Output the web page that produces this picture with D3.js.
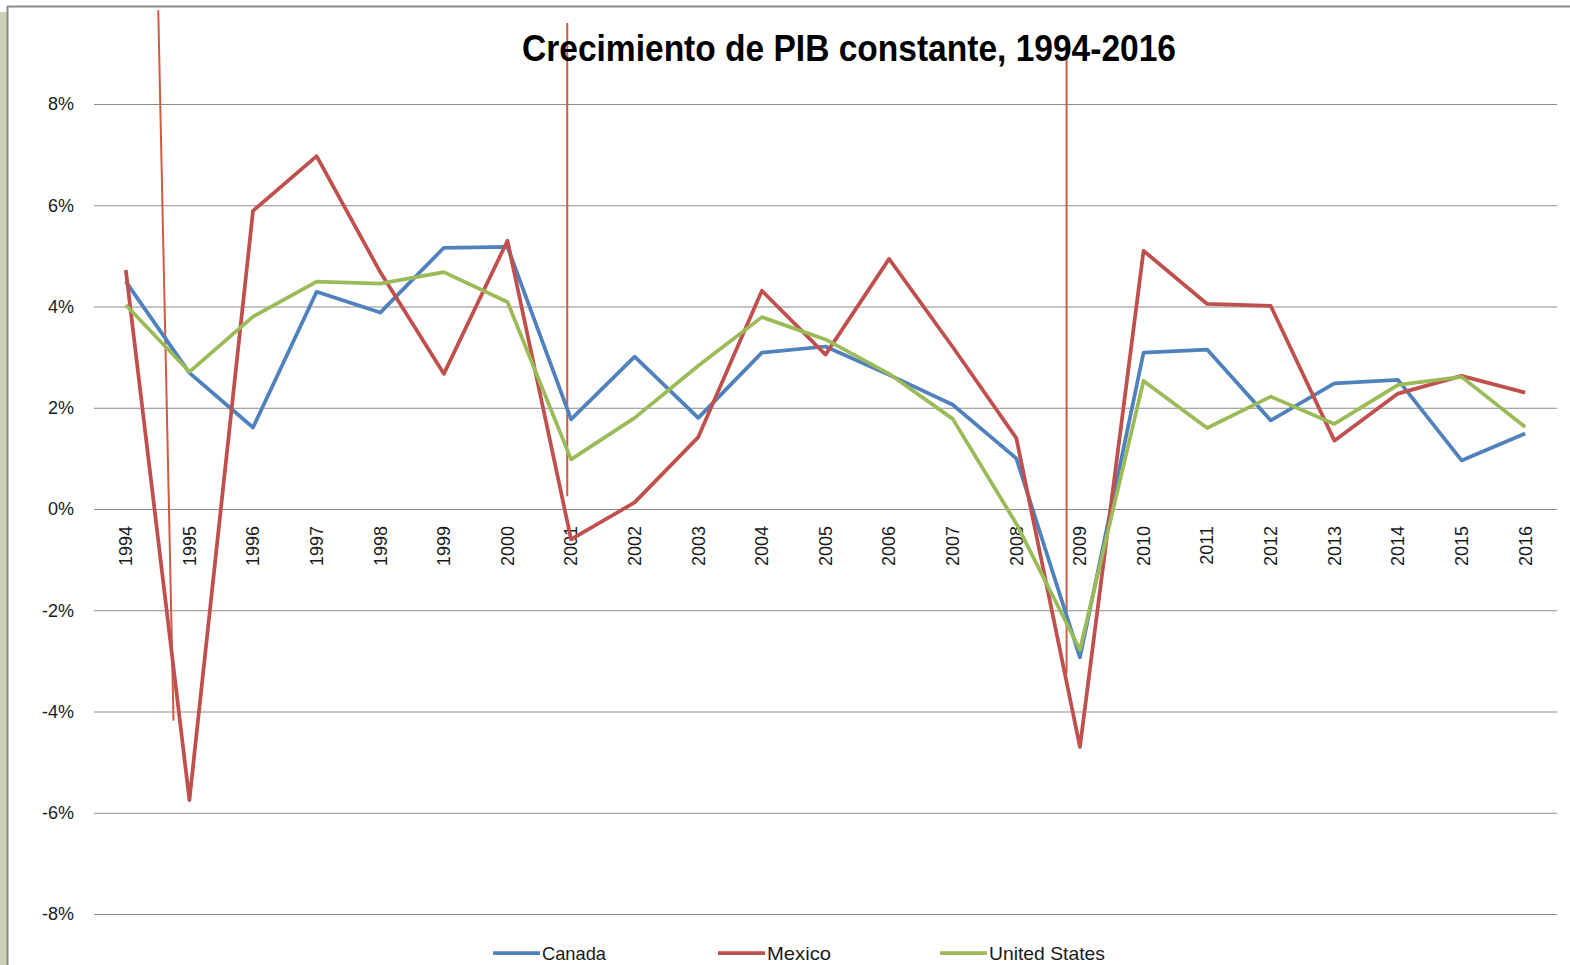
<!DOCTYPE html>
<html>
<head>
<meta charset="utf-8">
<script src="https://cdn.jsdelivr.net/npm/d3@7"></script>
<style>
  html, body { margin: 0; padding: 0; background: #fff; }
  svg { display: block; }
</style>
</head>
<body>
<svg id="chart" width="1570" height="965"></svg>
<script>
const years = ["1994","1995","1996","1997","1998","1999","2000","2001","2002","2003","2004","2005","2006","2007","2008","2009","2010","2011","2012","2013","2014","2015","2016"];
const canada = [4.49, 2.69, 1.61, 4.29, 3.88, 5.16, 5.18, 1.77, 3.01, 1.80, 3.09, 3.21, 2.65, 2.06, 1.00, -2.93, 3.09, 3.15, 1.75, 2.48, 2.55, 0.96, 1.49];
const mexico = [4.72, -5.75, 5.89, 6.97, 4.68, 2.67, 5.30, -0.60, 0.13, 1.42, 4.31, 3.05, 4.94, 3.20, 1.40, -4.70, 5.10, 4.05, 4.01, 1.35, 2.28, 2.63, 2.30];
const unitedStates = [4.03, 2.71, 3.80, 4.49, 4.45, 4.68, 4.09, 0.98, 1.80, 2.83, 3.79, 3.35, 2.67, 1.78, -0.29, -2.78, 2.53, 1.60, 2.22, 1.68, 2.45, 2.61, 1.62];
const yTicks = [-8, -6, -4, -2, 0, 2, 4, 6, 8];
const seriesNames = ["Canada", "Mexico", "United States"];
const seriesColors = ["#4f81bd", "#c0504d", "#9bbb59"];
const title = "Crecimiento de PIB constante, 1994-2016";
// hand-drawn annotation strokes, in data units (year index, percent)
const annotX1 = [0.51, 6.94, 14.79];
const annotY1 = [9.85, 9.6, 9.25];
const annotX2 = [0.75, 6.94, 14.79];
const annotY2 = [-4.18, 0.25, -3.25];

const svg = d3.select("#chart");
const W = 1570, H = 965;
const plot = {left: 94, right: 1557, top: 104, bottom: 914};

// frame
svg.append("rect").attr("x", 0).attr("y", 12).attr("width", 7).attr("height", H - 12).attr("fill", "#cdd1b9");
svg.append("line").attr("x1", 7.5).attr("x2", 7.5).attr("y1", 6).attr("y2", H).attr("stroke", "#8a8a8a").attr("stroke-width", 2);
svg.append("line").attr("x1", 7).attr("x2", W).attr("y1", 6.5).attr("y2", 6.5).attr("stroke", "#8a8a8a").attr("stroke-width", 2);

const x = d3.scaleBand().domain(years).range([plot.left, plot.right]).padding(0);
const xc = d => x(d) + x.bandwidth() / 2;
const xi = i => plot.left + x.bandwidth() * (i + 0.5);
const y = d3.scaleLinear().domain([-8, 8]).range([plot.bottom, plot.top]);

// gridlines
const yAxis = d3.axisLeft(y).tickValues(yTicks).tickSize(-(plot.right - plot.left)).tickFormat(d => d + "%").tickPadding(20);
const ga = svg.append("g").attr("transform", `translate(${plot.left},0)`).call(yAxis);
ga.select(".domain").remove();
ga.selectAll(".tick line").attr("stroke", "#8c8c8c").attr("stroke-width", 1);
ga.selectAll(".tick text").attr("font-family", "'Liberation Sans', Arial, sans-serif").attr("font-size", 18).attr("fill", "#1a1a1a");

// x labels (rotated)
const xAxis = d3.axisBottom(x).tickSize(0).tickPadding(0);
const gx = svg.append("g").attr("transform", `translate(0,${y(0)})`).call(xAxis);
gx.select(".domain").remove();
gx.selectAll(".tick text")
  .attr("font-family", "'Liberation Sans', Arial, sans-serif").attr("font-size", 18).attr("fill", "#1a1a1a")
  .attr("text-anchor", "end")
  .attr("transform", "translate(0,17) rotate(-90)")
  .attr("x", 0).attr("y", 0).attr("dy", "0.35em");

// annotation strokes
svg.append("g").selectAll("line").data(annotX1.map((d, i) => i)).join("line")
  .attr("x1", i => xi(annotX1[i])).attr("y1", i => y(annotY1[i]))
  .attr("x2", i => xi(annotX2[i])).attr("y2", i => y(annotY2[i]))
  .attr("stroke", "#cf5b43").attr("stroke-width", 2);

// series
const data = [canada, mexico, unitedStates];
const line = d3.line().x((d, i) => xc(years[i])).y(d => y(d));
svg.append("g").selectAll("path").data(data).join("path")
  .attr("d", d => line(d))
  .attr("fill", "none")
  .attr("stroke", (d, i) => seriesColors[i])
  .attr("stroke-width", 3.75)
  .attr("stroke-linejoin", "round");

// title
svg.append("text").attr("x", 849).attr("y", 61).attr("text-anchor", "middle")
  .attr("font-family", "'Liberation Sans Narrow', 'Liberation Sans', Arial, sans-serif")
  .attr("font-weight", "bold").attr("font-size", 36).attr("fill", "#000")
  .attr("textLength", 654).attr("lengthAdjust", "spacingAndGlyphs")
  .text(title);

// legend
const legX = [493, 718, 940];
const legTextW = [64, 64, 116];
const lg = svg.append("g").selectAll("g").data(seriesNames).join("g")
  .attr("transform", (d, i) => `translate(${legX[i]},953)`);
lg.append("line").attr("x1", 0).attr("x2", 47).attr("y1", 0).attr("y2", 0)
  .attr("stroke", (d, i) => seriesColors[i]).attr("stroke-width", 3.75);
lg.append("text").attr("x", 49).attr("y", 7)
  .attr("font-family", "'Liberation Sans Narrow', 'Liberation Sans', Arial, sans-serif")
  .attr("font-size", 19).attr("fill", "#1a1a1a")
  .attr("textLength", (d, i) => legTextW[i]).attr("lengthAdjust", "spacingAndGlyphs")
  .text(d => d);
</script>
</body>
</html>
